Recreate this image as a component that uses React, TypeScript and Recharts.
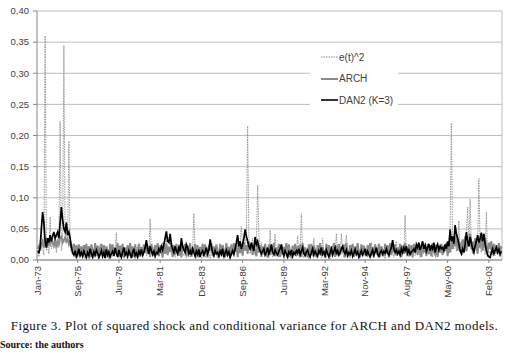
import { LineChart, Line, XAxis, YAxis, CartesianGrid, ReferenceLine } from "recharts";

// monthly values in thousandths, one row per year, Jan-73 .. Dec-03
const E2 = [
  12, 5, 30, 45, 20, 8, 360, 15, 25, 10, 69, 18,
  25, 18, 35, 12, 30, 20, 223, 15, 30, 345, 28, 45,
  30, 191, 25, 12, 8, 15, 5, 10, 3, 18, 6, 12,
  4, 10, 2, 15, 7, 1, 12, 5, 18, 3, 9, 6,
  14, 2, 8, 20, 5, 11, 3, 16, 7, 1, 10, 4,
  6, 13, 9, 44, 5, 2, 17, 8, 12, 3, 15, 7,
  2, 11, 6, 19, 4, 14, 1, 9, 22, 5, 8, 16,
  3, 12, 25, 7, 18, 10, 66, 14, 5, 20, 9, 13,
  8, 15, 24, 12, 28, 20, 26, 32, 14, 22, 30, 10,
  6, 18, 4, 13, 22, 9, 16, 30, 11, 7, 19, 3,
  12, 5, 20, 8, 14, 75, 10, 3, 17, 6, 11, 2,
  9, 15, 4, 18, 7, 13, 2, 24, 10, 5, 16, 8,
  3, 14, 7, 20, 11, 1, 17, 6, 12, 22, 4, 9,
  15, 8, 25, 18, 30, 12, 28, 54, 20, 35, 26, 40,
  215, 30, 10, 22, 35, 18, 8, 25, 120, 40, 15, 28,
  12, 20, 6, 15, 9, 3, 48, 11, 5, 18, 42, 7,
  10, 4, 16, 8, 21, 2, 13, 6, 19, 9, 3, 14,
  5, 17, 8, 12, 39, 6, 15, 75, 10, 3, 20, 9,
  14, 2, 11, 18, 6, 35, 9, 4, 16, 7, 12, 3,
  35, 8, 13, 5, 19, 10, 2, 15, 7, 22, 11, 42,
  6, 18, 9, 42, 12, 4, 20, 40, 8, 14, 3, 17,
  10, 5, 21, 7, 13, 2, 16, 9, 24, 6, 11, 15,
  4, 19, 8, 28, 12, 3, 17, 10, 6, 21, 9, 13,
  7, 15, 2, 20, 11, 5, 18, 8, 14, 4, 22, 30,
  9, 16, 6, 24, 12, 18, 72, 10, 20, 5, 14, 8,
  13, 25, 7, 19, 10, 22, 4, 16, 30, 11, 18, 6,
  15, 9, 21, 12, 5, 18, 24, 8, 14, 20, 11, 17,
  10, 22, 16, 28, 12, 30, 50, 220, 25, 18, 35, 14,
  20, 63, 12, 30, 8, 26, 15, 40, 85, 22, 98, 18,
  10, 28, 35, 15, 24, 131, 20, 12, 30, 43, 8, 77,
  5, 14, 9, 30, 12, 20, 7, 16, 10, 22, 6, 18,
];

const ARCH = [
  18, 22, 15, 25, 30, 20, 28, 35, 22, 30, 25, 32,
  28, 24, 33, 20, 30, 26, 35, 38, 28, 32, 36, 30,
  34, 25, 30, 22, 18, 26, 8, 24, 6, 25, 10, 22,
  5, 24, 12, 26, 7, 22, 4, 25, 15, 6, 27, 9,
  23, 5, 20, 26, 8, 24, 4, 22, 12, 5, 26, 10,
  25, 6, 21, 14, 27, 5, 23, 9, 26, 4, 20, 12,
  24, 7, 27, 10, 22, 5, 25, 13, 4, 26, 8, 21,
  6, 25, 12, 27, 9, 23, 5, 26, 14, 7, 24, 11,
  27, 6, 22, 15, 4, 25, 10, 26, 8, 21, 13, 27,
  5, 24, 9, 26, 12, 7, 25, 4, 22, 15, 26, 6,
  23, 11, 27, 5, 20, 14, 26, 8, 24, 4, 21, 12,
  26, 7, 25, 10, 4, 23, 15, 27, 6, 22, 9, 25,
  12, 5, 26, 8, 24, 14, 4, 27, 10, 21, 6, 25,
  9, 27, 13, 24, 5, 22, 11, 26, 7, 28, 15, 24,
  10, 30, 18, 26, 8, 25, 14, 6, 27, 12, 24, 5,
  22, 9, 26, 13, 4, 25, 8, 23, 15, 27, 6, 20,
  11, 26, 5, 24, 9, 21, 14, 27, 4, 25, 12, 7,
  23, 10, 26, 6, 22, 13, 25, 5, 27, 9, 20, 14,
  4, 25, 11, 26, 7, 23, 15, 5, 24, 10, 27, 8,
  21, 13, 4, 26, 9, 24, 6, 22, 14, 27, 5, 23,
  10, 26, 8, 21, 15, 25, 4, 27, 11, 6, 24, 13,
  26, 5, 22, 9, 27, 12, 4, 25, 8, 23, 14, 6,
  24, 11, 27, 7, 21, 4, 25, 13, 9, 26, 5, 22,
  15, 6, 26, 10, 24, 4, 27, 8, 22, 13, 25, 7,
  20, 12, 26, 5, 23, 10, 27, 14, 6, 25, 9, 24,
  4, 26, 13, 22, 8, 27, 11, 5, 24, 15, 21, 7,
  26, 10, 24, 6, 27, 14, 9, 25, 5, 22, 12, 26,
  8, 23, 15, 27, 6, 25, 12, 30, 18, 35, 22, 40,
  15, 30, 25, 12, 33, 20, 38, 14, 28, 22, 42, 18,
  30, 12, 35, 25, 10, 32, 20, 40, 15, 28, 36, 22,
  12, 28, 18, 30, 8, 26, 15, 24, 10, 27, 14, 22,
];

const DAN2 = [
  15, 12, 20, 50, 77, 60, 30, 20, 35, 28, 40, 30,
  38, 45, 35, 40, 45, 35, 60, 85, 65, 50, 45, 60,
  40, 45, 35, 20, 12, 8, 15, 5, 10, 18, 7, 12,
  6, 14, 9, 4, 12, 7, 18, 10, 5, 13, 8, 16,
  11, 4, 9, 15, 6, 12, 3, 17, 8, 13, 5, 10,
  14, 7, 19, 11, 5, 16, 9, 4, 13, 20, 8, 12,
  6, 15, 10, 3, 12, 18, 7, 11, 5, 14, 9, 17,
  8, 12, 20, 32, 18, 10, 22, 15, 9, 14, 6, 12,
  10, 18, 14, 22, 16, 25, 35, 46, 30, 28, 42, 25,
  18, 12, 22, 15, 10, 20, 14, 35, 22, 16, 12, 25,
  20, 10, 15, 8, 18, 12, 6, 14, 9, 17, 5, 12,
  15, 8, 13, 20, 10, 16, 33, 22, 12, 7, 15, 10,
  12, 6, 14, 9, 18, 5, 11, 16, 8, 13, 4, 10,
  15, 9, 18, 28, 40, 22, 30, 18, 25, 35, 49, 38,
  30, 22, 18, 28, 20, 15, 37, 25, 30, 20, 15, 10,
  14, 18, 8, 12, 20, 10, 15, 25, 12, 9, 16, 11,
  8, 14, 18, 25, 12, 7, 15, 10, 5, 13, 9, 16,
  6, 12, 9, 15, 11, 18, 8, 14, 20, 10, 7, 13,
  16, 9, 5, 12, 18, 8, 14, 10, 6, 15, 11, 20,
  9, 13, 7, 16, 10, 5, 12, 18, 8, 14, 20, 11,
  15, 8, 12, 18, 22, 14, 10, 16, 7, 12, 9, 15,
  6, 11, 17, 9, 13, 5, 10, 15, 8, 12, 18, 7,
  14, 9, 5, 11, 16, 8, 13, 20, 10, 6, 12, 15,
  9, 14, 11, 18, 12, 8, 15, 20, 32, 18, 12, 16,
  10, 14, 8, 18, 12, 20, 15, 22, 11, 16, 9, 13,
  15, 18, 12, 25, 20, 28, 16, 22, 30, 18, 24, 14,
  20, 26, 15, 22, 18, 28, 12, 20, 25, 16, 22, 18,
  20, 15, 25, 18, 30, 22, 49, 30, 38, 26, 56, 42,
  35, 25, 15, 10, 18, 12, 25, 45, 30, 22, 37, 28,
  18, 12, 22, 30, 40, 28, 35, 44, 30, 42, 25, 15,
  8, 5, 4, 12, 18, 10, 15, 20, 12, 17, 9, 14,
];

const TICK_LABELS = ["Jan-73", "Sep-75", "Jun-78", "Mar-81", "Dec-83", "Sep-86", "Jun-89", "Mar-92", "Nov-94", "Aug-97", "May-00", "Feb-03"];
const TICK_INDEX = [0, 32, 65, 98, 131, 164, 197, 230, 262, 295, 328, 361];
const Y_TICKS = [0, 0.05, 0.1, 0.15, 0.2, 0.25, 0.3, 0.35, 0.4];

const data = E2.map((v, i) => ({ i, e2: v / 1000, arch: ARCH[i] / 1000, dan2: DAN2[i] / 1000 }));

const axisFont = "'Liberation Sans', Arial, sans-serif";

function XTick({ x, payload }: any) {
  const k = TICK_INDEX.indexOf(payload.value);
  return (
    <g transform={`translate(${x},266)`}>
      <text transform="rotate(-90)" textAnchor="end" dy="0.35em" fontSize={9.5} fill="#404040" fontFamily={axisFont}>
        {TICK_LABELS[k]}
      </text>
    </g>
  );
}

const legendItems = [
  { name: "e(t)^2", color: "#8c8c8c", width: 1, dash: "1.5 1" },
  { name: "ARCH", color: "#8a8a8a", width: 2, dash: undefined },
  { name: "DAN2 (K=3)", color: "#000", width: 1.6, dash: undefined },
];

function LegendBox() {
  return (
    <div style={{ position: "absolute", left: 310, top: 47, background: "#fff", width: 88, height: 64, fontFamily: axisFont }}>
      {legendItems.map((it, k) => (
        <div key={it.name} style={{ position: "absolute", left: 11, top: 4 + k * 21.5, height: 12, display: "flex", alignItems: "center" }}>
          <svg width={17} height={4}>
            <line x1={0} y1={2} x2={17} y2={2} stroke={it.color} strokeWidth={it.width} strokeDasharray={it.dash} />
          </svg>
          <span style={{ fontSize: 10, color: "#404040", marginLeft: 1 }}>{it.name}</span>
        </div>
      ))}
    </div>
  );
}

export default function App() {
  return (
    <div style={{ position: "absolute", left: 0, top: 0, width: 509, height: 353, background: "#fff", overflow: "hidden" }}>
      <LineChart width={509} height={315} data={data} margin={{ top: 11, right: 7, left: 0, bottom: 0 }}>
        <CartesianGrid vertical={false} stroke="#bfbfbf" />
        <XAxis
          dataKey="i"
          type="number"
          domain={[-0.5, 371.5]}
          ticks={TICK_INDEX}
          tick={<XTick />}
          tickLine={{ stroke: "#868686" }}
          tickSize={3}
          axisLine={{ stroke: "#868686" }}
          height={55}
          interval={0}
        />
        <YAxis
          domain={[0, 0.4]}
          ticks={Y_TICKS}
          width={37}
          tickSize={4}
          tickMargin={4}
          tickFormatter={(v: number) => v.toFixed(2).replace(".", ",")}
          tick={{ fontSize: 9.5, fill: "#404040", fontFamily: axisFont }}
          tickLine={{ stroke: "#868686" }}
          axisLine={{ stroke: "#868686" }}
        />
        <ReferenceLine x={371.5} stroke="#bfbfbf" />
        <Line dataKey="e2" stroke="#8c8c8c" strokeWidth={0.9} strokeDasharray="1.5 1" dot={false} isAnimationActive={false} />
        <Line dataKey="arch" stroke="#8a8a8a" strokeWidth={2} dot={false} isAnimationActive={false} />
        <Line dataKey="dan2" stroke="#000" strokeWidth={1.7} dot={false} isAnimationActive={false} />
      </LineChart>
      <LegendBox />
      <div style={{ position: "absolute", top: 318, left: 0, width: 509, textAlign: "center", fontFamily: "'Liberation Serif', serif", fontSize: 13, letterSpacing: 0.4, color: "#111" }}>
        Figure 3. Plot of squared shock and conditional variance for ARCH and DAN2 models.
      </div>
      <div style={{ position: "absolute", top: 339, left: 0, fontFamily: "'Liberation Serif', serif", fontSize: 10, fontWeight: "bold", color: "#111" }}>
        Source: the authors
      </div>
    </div>
  );
}
